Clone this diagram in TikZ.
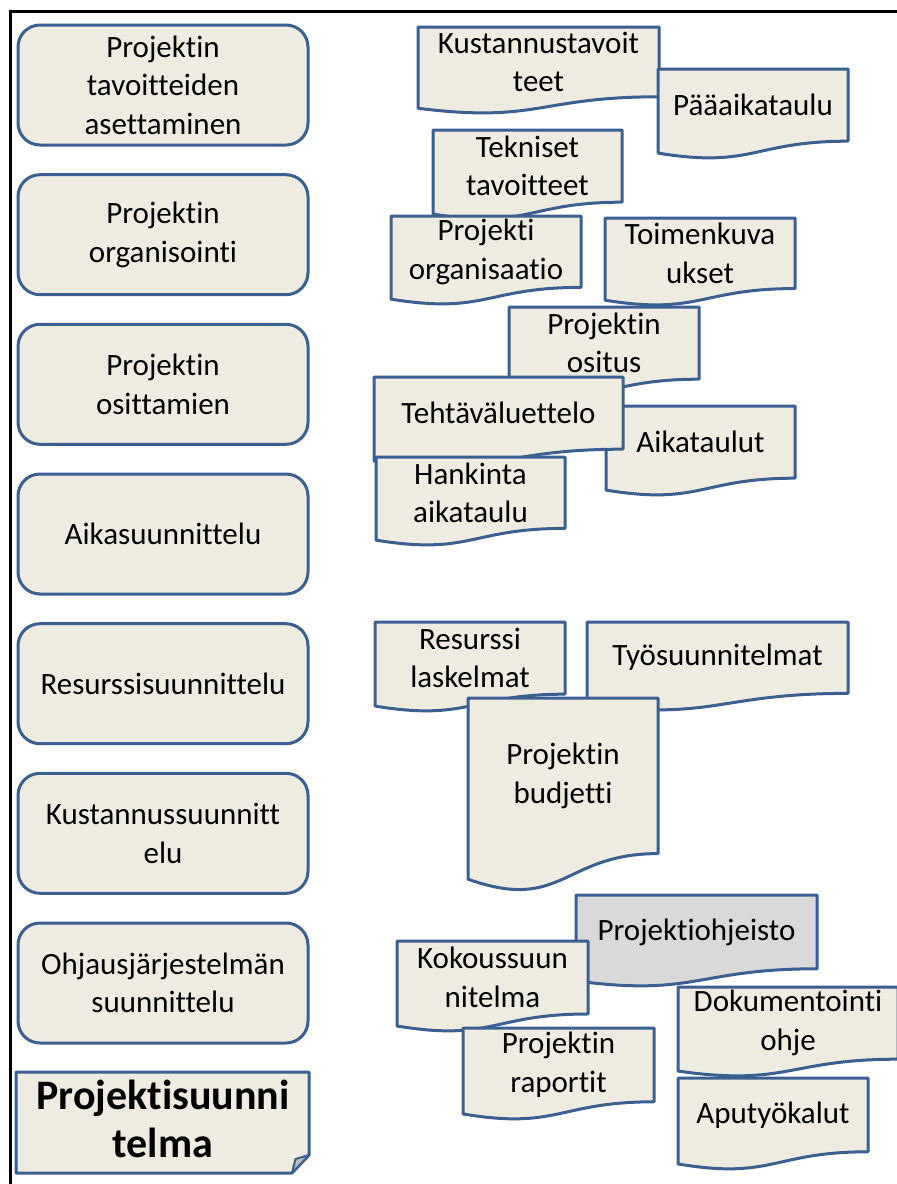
\documentclass[tikz,border=0pt]{standalone}
\usepackage{fontspec}
\setmainfont{Carlito}[Ligatures=NoCommon]
\definecolor{edgeblue}{RGB}{58,96,145}
\definecolor{docfill}{RGB}{238,236,225}
\definecolor{greyfill}{RGB}{217,217,217}
\definecolor{foldfill}{RGB}{190,188,180}
\tikzset{
  frameline/.style={line width=3pt,black},
  docline/.style={draw=edgeblue,line width=3pt,line join=round},
  doctext/.style={align=center,inner sep=0pt,font=\fontsize{31}{38.5}\selectfont,text=black},
  stagebox/.style={draw=edgeblue,line width=3pt,fill=docfill,rounded corners=22pt,
    minimum width=290pt,minimum height=120pt,align=center,inner sep=2pt,
    font=\fontsize{31}{38.5}\selectfont},
}
% document-shaped box: [fill]{name}{left}{top}{right}{height}{text}
\newcommand\docbox[7][docfill]{%
  \pgfmathsetmacro\dya{#4+0.802*#6}%
  \pgfmathsetmacro\dyb{#4+1.1075*#6}%
  \pgfmathsetmacro\dyc{#4+0.934*#6}%
  \pgfmathsetmacro\dxm{(#3+#5)/2}%
  \pgfmathsetmacro\dyt{#4+0.401*#6}%
  \draw[docline,fill=#1] (#3,#4) -- (#5,#4) -- (#5,\dya)
     .. controls (\dxm,\dya) and (\dxm,\dyb) .. (#3,\dyc) -- cycle;
  \node[doctext] (#2) at (\dxm,\dyt) {#7};}
\begin{document}
\begin{tikzpicture}[x=1pt,y=-1pt]
\useasboundingbox (0,0) rectangle (897,1184);
% outer frame (left and top edges)
\draw[frameline] (10.5,1190) -- (10.5,11.5) -- (905,11.5);

% planning stages
\node[stagebox] (s1) at (163,85)    {Projektin\\tavoitteiden\\asettaminen};
\node[stagebox] (s2) at (163,234.7) {Projektin\\organisointi};
\node[stagebox] (s3) at (163,384.3) {Projektin\\osittamien};
\node[stagebox] (s4) at (163,534)   {Aikasuunnittelu};
\node[stagebox] (s5) at (163,683.7) {Resurssisuunnittelu};
\node[stagebox] (s6) at (163,833.3) {Kustannussuunnitt\\elu};
\node[stagebox] (s7) at (163,983)   {Ohjausjärjestelmän\\suunnittelu};

% result: folded-corner box
\draw[docline,fill=docfill] (16,1072) -- (309,1072) -- (309,1155) -- (292,1173) -- (16,1173) -- cycle;
\draw[docline,line width=2pt,fill=foldfill] (309,1155) -- (292,1173) -- (295.5,1159) -- cycle;
\node[align=center,inner sep=0pt,font=\fontsize{42}{48}\selectfont\bfseries] (plan) at (163,1119) {Projektisuunni\\telma};

% documents: goals
\docbox{d1}{418}{27}{659}{87}{Kustannustavoit\\teet}
\docbox{d2}{658}{69}{848}{90}{Pääaikataulu}
% organisation
\docbox{d3}{433}{130}{622}{90}{Tekniset\\tavoitteet}
\docbox{d4}{391}{216}{581}{89}{Projekti\\organisaatio}
\docbox{d5}{605}{218}{795}{88}{Toimenkuva\\ukset}
% breakdown and scheduling
\docbox{d6}{509}{307}{699}{90}{Projektin\\ositus}
\docbox{d7}{606}{406}{795}{90}{Aikataulut}
\docbox{d8}{374}{377}{623}{90}{Tehtäväluettelo}
\docbox{d9}{376}{457}{565}{89}{Hankinta\\aikataulu}
% resources and costs
\docbox{d10}{375}{622}{565}{90}{Resurssi\\laskelmat}
\docbox{d11}{587}{622}{848}{89}{Työsuunnitelmat}
\docbox{d12}{468}{698}{658}{194}{Projektin\\budjetti}
% control system
\docbox[greyfill]{d13}{576}{895}{817}{92}{Projektiohjeisto}
\docbox{d14}{397}{941}{588}{91}{Kokoussuun\\nitelma}
\docbox{d15}{463}{1028}{654}{92}{Projektin\\raportit}
\docbox{d16}{678}{987}{898}{90}{Dokumentointi\\ohje}
\docbox{d17}{678}{1078}{868}{92}{Aputyökalut}
\end{tikzpicture}
\end{document}
